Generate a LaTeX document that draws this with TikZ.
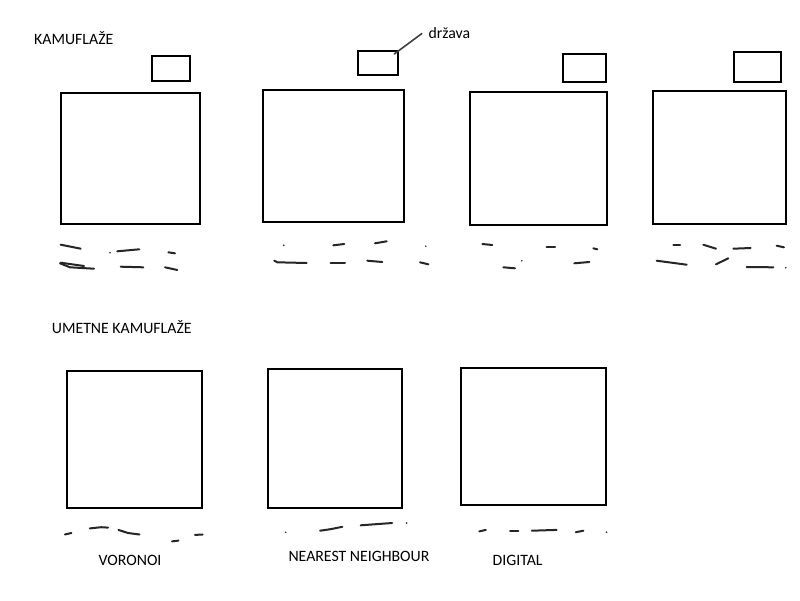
\documentclass[tikz,border=0pt]{standalone}
\usepackage{fontspec}
\setmainfont{Carlito}
\usepackage{tikz}
\usetikzlibrary{
    arrows.meta,
    positioning
}
\usepackage{xcolor}

\begin{document}
\begin{tikzpicture}[
        x=1pt,
        y=-1pt,
        panel/.style={
            rectangle,
            draw,
            line width=2pt,
            inner sep=0pt
        },
        flagbox/.style={
            rectangle,
            draw,
            line width=2pt,
            inner sep=0pt
        },
        lbl/.style={
            inner sep=0pt,
            font=\fontsize{15.8}{18}\selectfont
        },
        scrib/.style={
            line width=2pt,
            line cap=round,
            line join=round,
            black!85
        },
        leader/.style={
            line width=1.6pt,
            line cap=round,
            black!75
        }
    ]
    \path[fill=white,use as bounding box] (0,0) rectangle (800,600);

    % section titles
    \node[lbl, anchor=base west] (kam) at (34,44.3) {KAMUFLAŽE};
    \node[lbl, anchor=base west] (umet) at (51.7,333.3) {UMETNE KAMUFLAŽE};

    % real camouflages
    \node[panel, minimum width=139.3pt, minimum height=130.4pt] (K1) at (130.3,158.5) {};
    \node[panel, minimum width=141.3pt, minimum height=132.3pt] (K2) at (333.3,156.2) {};
    \node[panel, minimum width=137.3pt, minimum height=132.7pt] (K3) at (538.7,158.7) {};
    \node[panel, minimum width=133.3pt, minimum height=133.3pt] (K4) at (719.3,157.7) {};

    \node[flagbox, minimum width=38.3pt, minimum height=25.3pt] (D1) at (170.8,68.3) {};
    \node[flagbox, minimum width=40.6pt, minimum height=24pt] (D2) at (378,63) {};
    \node[flagbox, minimum width=43.3pt, minimum height=28pt] (D3) at (584.3,68) {};
    \node[flagbox, minimum width=46.7pt, minimum height=29.7pt] (D4) at (757.3,67.2) {};

    \node[lbl, anchor=base west] (drzava) at (428.3,38) {država};
    \draw[leader] ([xshift=-5pt,yshift=-4pt]D2.north east) -- ([xshift=-6.5pt,yshift=-1pt]drzava.west);

    % artificial camouflages
    \node[panel, minimum width=135.6pt, minimum height=137.6pt] (U1) at (134.5,439.5) {};
    \node[panel, minimum width=133.7pt, minimum height=139.3pt] (U2) at (335.2,438.7) {};
    \node[panel, minimum width=145.3pt, minimum height=136.7pt] (U3) at (533.3,436.7) {};

    \node[lbl, anchor=base west] (vor) at (98.5,565) {VORONOI};
    \node[lbl, anchor=base west] (nn) at (288.3,561) {NEAREST NEIGHBOUR};
    \node[lbl, anchor=base west] (dig) at (492.5,565) {DIGITAL};

    % handwritten placeholder lines
    \draw[scrib] (60.7,244.7) -- (80.7,248.7);
    \draw[scrib] (117.3,251.3) -- (139.3,249.3);
    \draw[scrib] (168.3,252.3) -- (175,253.3);
    \draw[scrib] (60.7,262.7) -- (84,266);
    \draw[scrib] (60,263.3) -- (70,267.3) -- (94,268.7);
    \draw[scrib] (120.7,266.7) -- (143.3,267.3);
    \draw[scrib] (165,267.3) -- (177.3,270);
    \fill[black!85] (110,252.7) circle (0.9);

    \draw[scrib] (333.3,245.3) -- (344.3,244);
    \draw[scrib] (375,243.3) -- (386.7,241.3);
    \draw[scrib] (274.3,260.7) -- (277.3,262.3) -- (306.7,263);
    \draw[scrib] (330.7,262.7) -- (345,262.7);
    \draw[scrib] (367.3,260.7) -- (382.3,262);
    \draw[scrib] (420,262.3) -- (428.3,264.3);
    \fill[black!85] (283.7,245.3) circle (0.9);
    \fill[black!85] (425.7,246.3) circle (0.9);

    \draw[scrib] (482.3,244) -- (492.3,245);
    \draw[scrib] (546.7,246.7) -- (555,246.7);
    \draw[scrib] (593.3,248.3) -- (597.3,249.3);
    \draw[scrib] (503.3,267.3) -- (515,268.3);
    \draw[scrib] (574.3,263.3) -- (589.3,262);
    \fill[black!85] (521.7,260.7) circle (0.9);

    \draw[scrib] (673.3,244.7) -- (680,244.7);
    \draw[scrib] (703.3,244.7) -- (716,248.7);
    \draw[scrib] (733.3,248.7) -- (750.7,248);
    \draw[scrib] (776.7,245.7) -- (784,247.3);
    \draw[scrib] (656.7,260.7) -- (686.7,264.7);
    \draw[scrib] (716,264.3) -- (728.3,258.3);
    \draw[scrib] (746.7,267) -- (773.3,267.3);
    \fill[black!85] (785.7,267.7) circle (0.9);

    \draw[scrib] (64.9,534.5) -- (71.4,533);
    \draw[scrib] (89.8,528.4) -- (101.2,527.2) -- (108.1,527.6);
    \draw[scrib] (118.5,529.9) -- (128,533) -- (139.5,534.5);
    \draw[scrib] (172,541.4) -- (178.5,540.6);
    \draw[scrib] (195,534.9) -- (202.6,534.5);

    \draw[scrib] (320.1,530.7) -- (330.9,529.1) -- (342.3,526.8);
    \draw[scrib] (360.7,525.3) -- (392.1,523);
    \fill[black!85] (285.7,532.2) circle (0.9);
    \fill[black!85] (406.6,523) circle (0.9);

    \draw[scrib] (479.3,531.4) -- (485.8,529.9);
    \draw[scrib] (510,530.7) -- (518.4,530.7);
    \draw[scrib] (531.8,530.7) -- (556.6,529.9);
    \draw[scrib] (575.8,532.2) -- (583.4,530.7);
    \fill[black!85] (606.4,532.2) circle (0.9);

\end{tikzpicture}
\end{document}
